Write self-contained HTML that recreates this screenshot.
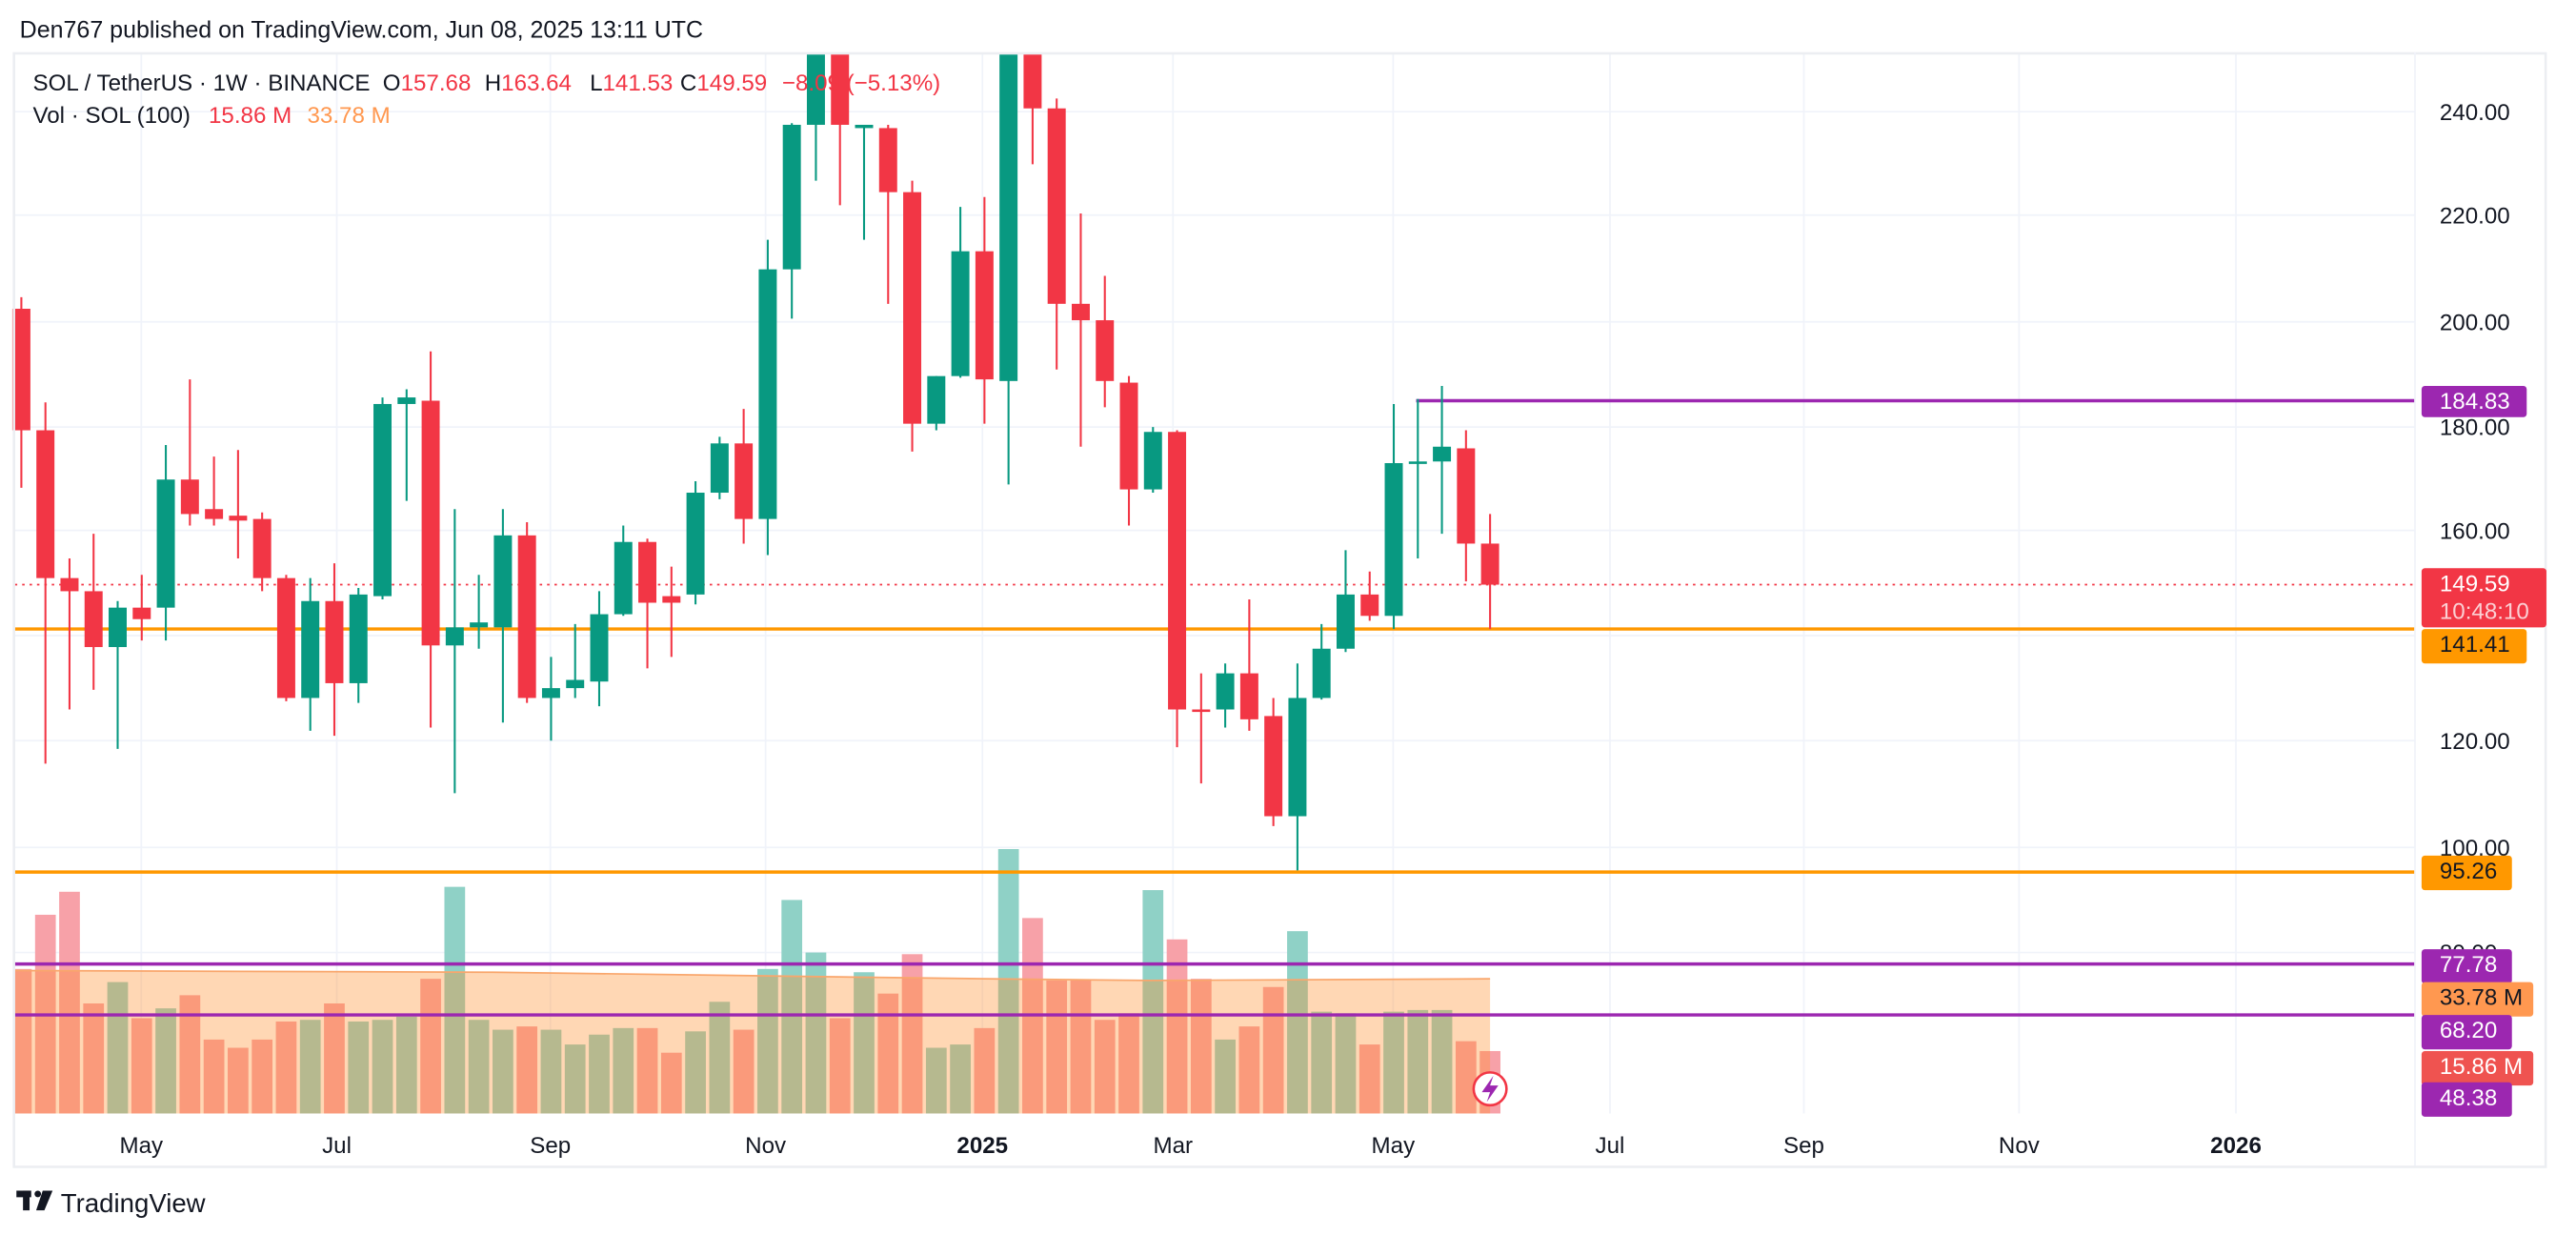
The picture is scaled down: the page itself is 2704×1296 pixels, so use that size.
<!DOCTYPE html>
<html><head><meta charset="utf-8"><style>
html,body{margin:0;padding:0;background:#fff;width:2704px;height:1296px;overflow:hidden}
svg{display:block}
text{font-family:"Liberation Sans",sans-serif}
</style></head><body>
<svg id="s" width="2704" height="1296" viewBox="0 0 1568 752" preserveAspectRatio="none" xmlns="http://www.w3.org/2000/svg">
<rect x="0" y="0" width="1568" height="752" fill="#fff"/>
<g id="grid"></g>
<g id="vol"></g>
<path d="M9 591 L300 592 L600 596 L700 597 L907 596 L907 678 L9 678 Z" fill="rgba(255,140,40,0.35)"/>
<path d="M9 591 L300 592 L600 596 L700 597 L907 596" stroke="#f9a66c" stroke-width="1" fill="none"/>
<g id="lines"></g>
<g id="candles"></g>
<rect x="8.5" y="32.5" width="1541" height="678" fill="none" stroke="#eceef2" stroke-width="1.5"/>
<line x1="1470" y1="32" x2="1470" y2="710" stroke="#f0f3fa"/>
<text x="12" y="23" font-size="14.5" fill="#131722">Den767 published on TradingView.com, Jun 08, 2025 13:11 UTC</text>
<text y="55" font-size="14" fill="#131722"><tspan x="20">SOL / TetherUS · 1W · BINANCE</tspan><tspan x="233">O</tspan><tspan fill="#f23645">157.68</tspan><tspan x="295">H</tspan><tspan fill="#f23645">163.64</tspan><tspan x="359">L</tspan><tspan fill="#f23645">141.53</tspan><tspan x="414">C</tspan><tspan fill="#f23645">149.59</tspan><tspan x="476" fill="#f23645">−8.09 (−5.13%)</tspan></text>
<text y="75" font-size="14" fill="#131722"><tspan x="20">Vol · SOL (100)</tspan><tspan x="127" fill="#f23645">15.86 M</tspan><tspan x="187" fill="#ff9850">33.78 M</tspan></text>
<g id="axis" font-size="14" fill="#131722"></g>
<g id="labels"></g>
<circle cx="907" cy="663" r="10" fill="#fff" stroke="#f23645" stroke-width="1.5"/>
<path d="M909 655 L902 665 L907 665 L905 671 L912 661 L907 661 Z" fill="#9c27b0"/>
<g fill="#131722"><rect x="10" y="725" width="9" height="4"/><rect x="14" y="725" width="4" height="12"/><circle cx="23" cy="727" r="2"/><path d="M26 725 L32 725 L27 737 L22 737 Z"/></g>
<text x="37" y="738" font-size="16" fill="#131722">TradingView</text>
</svg>
<script>
var NS="http://www.w3.org/2000/svg";
function el(p,t,a,txt){var e=document.createElementNS(NS,t);for(var k in a)e.setAttribute(k,a[k]);if(txt!=null)e.textContent=txt;document.getElementById(p).appendChild(e);return e;}
[68,131,196,260,323,387,451,516,580].forEach(function(y){el("grid","line",{x1:9,x2:1470,y1:y,y2:y,stroke:"#f0f3fa"});});
[86,205,335,466,598,714,848,980,1098,1229,1361].forEach(function(x){el("grid","line",{x1:x,x2:x,y1:32,y2:678,stroke:"#f0f3fa"});});
var C=[["r",181,188,262,297],["r",245,262,352,465],["r",340,352,360,432],["r",325,360,394,420],["g",366,370,394,456],["r",350,370,377,390],["g",271,292,370,390],["r",231,292,313,320],["r",278,310,316,320],["r",274,314,317,340],["r",312,316,352,360],["r",350,352,425,427],["g",352,366,425,445],["r",343,366,416,448],["g",358,362,416,428],["g",242,246,363,365],["g",237,242,246,305],["r",214,244,393,443],["g",310,382,393,483],["g",350,379,382,395],["g",310,326,382,440],["r",318,326,425,428],["g",400,419,425,451],["g",380,414,419,425],["g",360,374,415,430],["g",320,330,374,375],["r",328,330,367,407],["r",345,363,367,400],["g",293,300,362,368],["g",266,270,300,304],["r",249,270,316,331],["g",146,164,316,338],["g",75,76,164,194],["g",32,32,76,110],["r",32,32,76,125],["g",76,76,78,146],["r",76,78,117,185],["r",110,117,258,275],["g",229,229,258,262],["g",126,153,229,230],["r",120,153,231,258],["g",32,32,232,295],["r",32,32,66,100],["r",60,66,185,225],["r",130,185,195,272],["r",168,195,232,248],["r",229,233,298,320],["g",260,263,298,300],["r",262,263,432,455],["r",410,432,433,477],["g",404,410,432,443],["r",365,410,438,445],["r",425,436,497,503],["g",404,425,497,530],["g",380,395,425,426],["g",335,362,395,397],["r",348,362,375,378],["g",246,282,375,383],["g",243,281,282,340],["g",235,272,281,325],["r",262,273,331,354],["r",313,331,356,383]];
var V=[590,557,543,611,598,620,614,606,633,638,633,622,621,611,622,621,619,596,540,621,627,625,627,636,630,626,626,641,628,610,627,590,548,580,620,592,605,581,638,636,626,517,559,597,597,621,617,542,572,596,633,625,601,567,616,617,636,616,615,615,634,640];
var sp=(907-13)/61;
C.forEach(function(c,i){var x=13+i*sp;var col=c[0]=="g"?"#089981":"#f23645";
 el("candles","line",{x1:x,x2:x,y1:c[1],y2:c[4],stroke:col,"stroke-width":1.2});
 el("candles","rect",{x:x-5.5,y:c[2],width:11,height:Math.max(1.5,c[3]-c[2]),fill:col});
 var vx=x-6.3,vw=12.6;if(i==0){vx=9;vw=x+6.3-9;}
 el("vol","rect",{x:vx,y:V[i],width:vw,height:678-V[i],fill:c[0]=="g"?"#8fd1c6":"#f7a1a8"});
});
el("lines","line",{x1:9,x2:1470,y1:356,y2:356,stroke:"#f23645","stroke-width":1,"stroke-dasharray":"1.5 3"});
el("lines","line",{x1:862,x2:1470,y1:244,y2:244,stroke:"#9c27b0","stroke-width":2});
el("lines","line",{x1:9,x2:1470,y1:383,y2:383,stroke:"#ff9800","stroke-width":2});
el("lines","line",{x1:9,x2:1470,y1:531,y2:531,stroke:"#ff9800","stroke-width":2});
el("lines","line",{x1:9,x2:1470,y1:587,y2:587,stroke:"#9c27b0","stroke-width":2});
el("lines","line",{x1:9,x2:1470,y1:618,y2:618,stroke:"#9c27b0","stroke-width":2});
[["240.00",68],["220.00",131],["200.00",196],["180.00",260],["160.00",323],["120.00",451],["100.00",516],["80.00",580]].forEach(function(a){el("axis","text",{x:1485,y:a[1]+5},a[0]);});
[["May",86],["Jul",205],["Sep",335],["Nov",466],["2025",598],["Mar",714],["May",848],["Jul",980],["Sep",1098],["Nov",1229],["2026",1361]].forEach(function(a){var t=el("axis","text",{x:a[1],y:702,"text-anchor":"middle"},a[0]);if(a[0].length==4&&a[0][0]=="2")t.setAttribute("font-weight","bold");});
function lab(y,h,w,bg,fg,t,t2){el("labels","rect",{x:1474,y:y,width:w,height:h,rx:2,fill:bg});el("labels","text",{x:1485,y:y+14,"font-size":14,fill:fg},t);if(t2)el("labels","text",{x:1485,y:y+31,"font-size":14,fill:"#fbd0d4"},t2);}
lab(235,19,64,"#9c27b0","#fff","184.83");
lab(346,36,76,"#f23645","#fff","149.59","10:48:10");
lab(383,21,64,"#ff9800","#131722","141.41");
lab(521,21,55,"#ff9800","#131722","95.26");
lab(578,21,55,"#9c27b0","#fff","77.78");
lab(598,21,68,"#ff9850","#131722","33.78 M");
lab(618,21,55,"#9c27b0","#fff","68.20");
lab(640,21,68,"#ef5350","#fff","15.86 M");
lab(659,21,55,"#9c27b0","#fff","48.38");
</script>
</body></html>
